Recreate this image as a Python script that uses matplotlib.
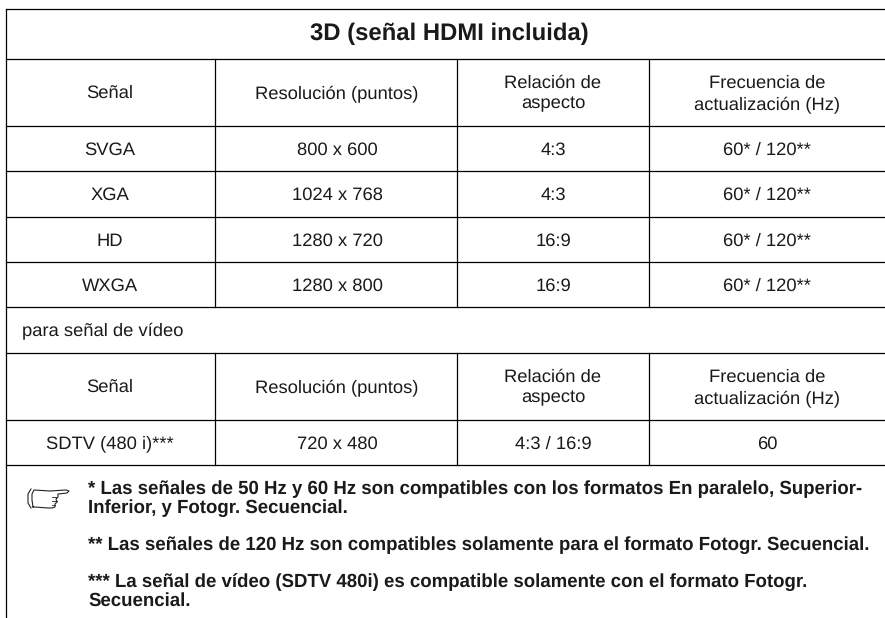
import matplotlib
matplotlib.use('Agg')
import matplotlib.pyplot as plt

plt.rcParams['font.family'] = ['Liberation Sans', 'DejaVu Sans']
plt.rcParams['text.hinting'] = 'none'

title = '3D (señal HDMI incluida)'
header = ['Señal', 'Resolución (puntos)', 'Relación de\naspecto', 'Frecuencia de\nactualización (Hz)']
rows = [
    ['SVGA', '800 x 600', '4:3', '60* / 120**'],
    ['XGA', '1024 x 768', '4:3', '60* / 120**'],
    ['HD', '1280 x 720', '16:9', '60* / 120**'],
    ['WXGA', '1280 x 800', '16:9', '60* / 120**'],
]
subtitle = 'para señal de vídeo'
rows2 = [['SDTV (480 i)***', '720 x 480', '4:3 / 16:9', '60']]
notes = [
    '* Las señales de 50 Hz y 60 Hz son compatibles con los formatos En paralelo, Superior-\nInferior, y Fotogr. Secuencial.',
    '** Las señales de 120 Hz son compatibles solamente para el formato Fotogr. Secuencial.',
    '*** La señal de vídeo (SDTV 480i) es compatible solamente con el formato Fotogr.\nSecuencial.',
]

# hand icon, pixels
hand_x = [33, 32, 32, 34, 50, 66, 69, 67, 58, 58, 56, 57, 55, 55, 52, 48, 35, 33]
hand_y = [507, 500, 494, 490, 491, 490, 491, 493, 494, 497, 499, 502, 504, 507, 508, 508, 507, 507]
cuff_x = [31, 28, 28, 31]
cuff_y = [489, 494, 503, 508]
finger_x = [[52, 57], [52, 57], [52, 55]]
finger_y = [[497, 497], [501, 501], [505, 505]]

fig = plt.figure(figsize=(8.85, 6.18), dpi=100)
ax = fig.add_axes([0, 0, 1, 1])
ax.set_xlim(0, 885)
ax.set_ylim(618, 0)
ax.axis('off')

col_x = [215, 457, 649]
col_c = [110, 337, 553, 767]
h_lines = [9, 59, 126, 171, 217, 262, 307, 353, 420, 465]

lw = 0.9
for y in h_lines:
    ax.plot([6, 885], [y, y], color='black', lw=lw)
ax.plot([6, 6], [9, 618], color='black', lw=lw)
for x in col_x:
    ax.plot([x, x], [59, 307], color='black', lw=lw)
    ax.plot([x, x], [353, 465], color='black', lw=lw)

txt = '#1a1a1a'
ax.text(449, 34, title, ha='center', va='center', fontsize=17.2, fontweight='bold', color=txt)

def draw_row(vals, y):
    for c, v in zip(col_c, vals):
        ax.text(c, y, v, ha='center', va='center', fontsize=13.25, color=txt, linespacing=1.32)

draw_row(header, 93.5)
for i, r in enumerate(rows):
    draw_row(r, [150, 195, 241, 286][i])
ax.text(22, 331, subtitle, ha='left', va='center', fontsize=13.25, color=txt)
draw_row(header, 387.5)
draw_row(rows2[0], 444)

for n, y in zip(notes, [480, 536, 573]):
    ax.text(88, y, n, ha='left', va='top', fontsize=13.42, fontweight='bold', color=txt, linespacing=1.08)

ax.plot(hand_x, hand_y, color='#222222', lw=0.8)
ax.plot(cuff_x, cuff_y, color='#222222', lw=0.8)
for fx, fy in zip(finger_x, finger_y):
    ax.plot(fx, fy, color='#222222', lw=0.6)

fig.savefig('out.png', dpi=100)
